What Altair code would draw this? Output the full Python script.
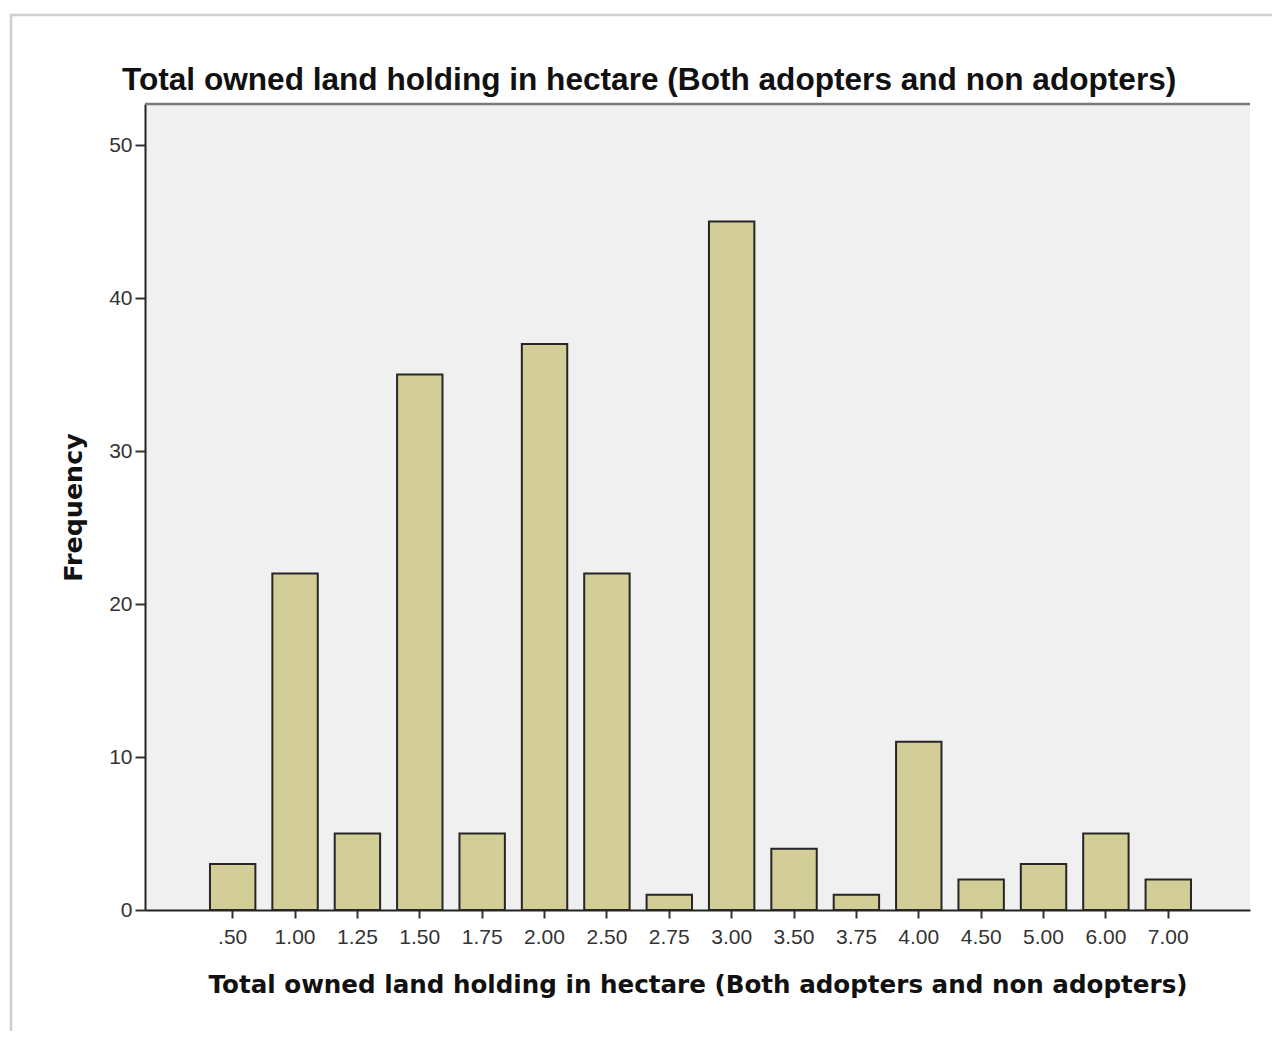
import altair as alt
import pandas as pd

categories = [".50", "1.00", "1.25", "1.50", "1.75", "2.00", "2.50", "2.75",
              "3.00", "3.50", "3.75", "4.00", "4.50", "5.00", "6.00", "7.00"]
frequencies = [3, 22, 5, 35, 5, 37, 22, 1, 45, 4, 1, 11, 2, 3, 5, 2]
y_ticks = [0, 10, 20, 30, 40, 50]

title_text = "Total owned land holding in hectare (Both adopters and non adopters)"

df = pd.DataFrame({"land": categories, "freq": frequencies})

W, H = 1105, 806

bars = alt.Chart(df).mark_bar(
    fill="#d3ce97", stroke="#262626", strokeWidth=2
).encode(
    x=alt.X("land:N", sort=categories,
            scale=alt.Scale(paddingInner=0.272, paddingOuter=0.994, align=0.524),
            axis=alt.Axis(title=title_text, labelAngle=0, tickSize=8, labelPadding=8,
                          titlePadding=26, titleFontSize=24.6)),
    y=alt.Y("freq:Q", scale=alt.Scale(domain=[0, 52.68], nice=False, zero=True),
            axis=alt.Axis(title="Frequency", values=y_ticks, tickSize=10, labelPadding=3,
                          titlePadding=22, titleFontSize=25.4, format="d")),
)

top_border = alt.Chart(alt.Data(values=[{}])).mark_rule(
    stroke="#7a7a7a", strokeWidth=2.5
).encode(x=alt.value(0), x2=alt.value(W), y=alt.value(0))

frame = alt.Chart(alt.Data(values=[{}])).mark_rect(
    fill=None, stroke="#cfcfcf", strokeWidth=2.5
).encode(x=alt.value(-134), x2=alt.value(W + 60), y=alt.value(-89), y2=alt.value(H + 160))

chart = alt.layer(frame, bars, top_border).properties(
    width=W, height=H,
    background="white",
    autosize=alt.AutoSizeParams(type="none"),
    padding={"left": 137, "top": 96, "right": 22, "bottom": 121},
    title=alt.TitleParams(title_text, anchor="start", frame="group", dx=-23, dy=108,
                          fontSize=31.6, baseline="alphabetic",
                          font="Liberation Sans", fontWeight="bold", color="#111",
                          offset=0),
).configure_view(
    stroke=None, fill="#f0f0f0"
).configure_axis(
    grid=False,
    labelFont="Liberation Sans", labelFontSize=21, labelColor="#333",
    tickColor="#333", tickWidth=2,
    domainColor="#222", domainWidth=2,
    titleFont="DejaVu Sans", titleFontWeight="bold", titleColor="#111",
)

chart.save("out.html", embed_options={"renderer": "svg", "actions": False})
